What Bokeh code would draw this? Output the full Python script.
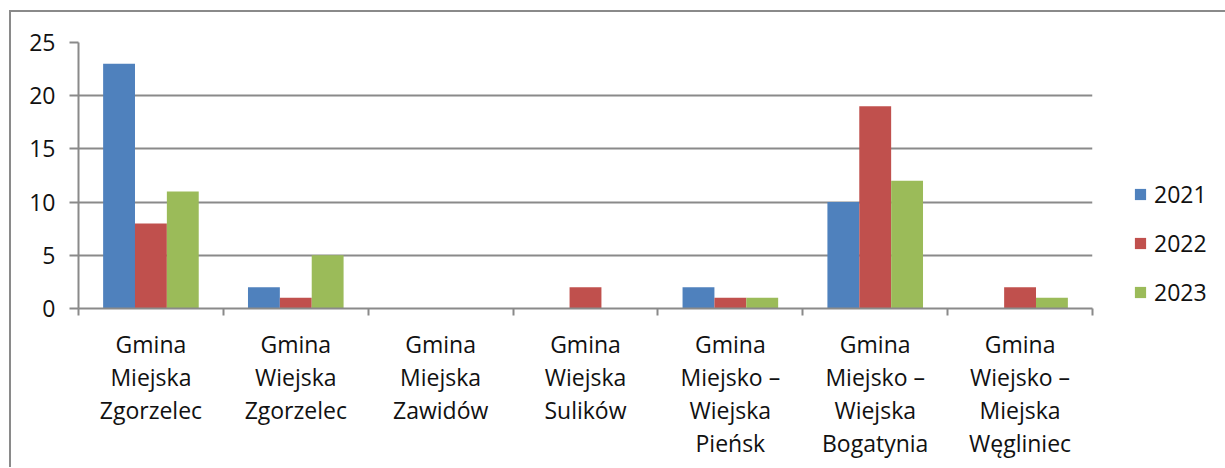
from bokeh.plotting import figure
from bokeh.models import (ColumnDataSource, Range1d, FixedTicker, SingleIntervalTicker,
                          Legend, LegendItem)
from bokeh.transform import dodge
from bokeh.embed import file_html
from bokeh.resources import INLINE

categories = [
    "Gmina\nMiejska\nZgorzelec",
    "Gmina\nWiejska\nZgorzelec",
    "Gmina\nMiejska\nZawidów",
    "Gmina\nWiejska\nSulików",
    "Gmina\nMiejsko –\nWiejska\nPieńsk",
    "Gmina\nMiejsko –\nWiejska\nBogatynia",
    "Gmina\nWiejsko –\nMiejska\nWęgliniec",
]
series_names = ["2021", "2022", "2023"]
v2021 = [23, 2, 0, 0, 2, 10, 0]
v2022 = [8, 1, 0, 2, 1, 19, 2]
v2023 = [11, 5, 0, 0, 1, 12, 1]
colors = ["#4F81BD", "#C0504D", "#9BBB59"]

FONT = "Open Sans"
FS = "23px"
GRAY = "#8a8a8a"
TXT = "#111111"

n = len(categories)
centers = [i + 0.5 for i in range(n)]
src = ColumnDataSource(dict(x=centers, a=v2021, b=v2022, c=v2023))

p = figure(frame_width=1014, frame_height=266,
           x_range=Range1d(0, n), y_range=Range1d(0, 25),
           output_backend="svg", toolbar_location=None,
           min_border_left=67, min_border_right=132,
           min_border_top=30, min_border_bottom=159)
p.styles = {"border-left": f"2px solid {GRAY}", "border-top": f"2px solid {GRAY}",
            "margin-left": "9px", "margin-top": "10px"}
p.outline_line_color = None
p.background_fill_color = "white"
p.border_fill_color = "white"

bw = 0.22
renderers = []
for col, off, color in zip(["a", "b", "c"], [-bw, 0, bw], colors):
    r = p.vbar(x=dodge("x", off, range=p.x_range), top=col, width=bw, bottom=0,
               source=src, fill_color=color, line_color=None)
    renderers.append(r)

# x axis
xa = p.xaxis[0]
xa.ticker = FixedTicker(ticks=centers, minor_ticks=list(range(n + 1)))
xa.major_label_overrides = {c: lab for c, lab in zip(centers, categories)}
xa.major_tick_line_color = None
xa.minor_tick_line_color = GRAY
xa.minor_tick_line_width = 2
xa.minor_tick_in = 0
xa.minor_tick_out = 7
xa.axis_line_color = GRAY
xa.axis_line_width = 2
xa.major_label_text_font = FONT
xa.major_label_text_font_size = FS
xa.major_label_text_color = TXT
xa.major_label_text_line_height = 1.04
xa.major_label_standoff = 12

# y axis
ya = p.yaxis[0]
ya.ticker = SingleIntervalTicker(interval=5, num_minor_ticks=0)
ya.major_tick_line_color = GRAY
ya.major_tick_line_width = 2
ya.major_tick_in = 0
ya.major_tick_out = 9
ya.minor_tick_line_color = None
ya.axis_line_color = GRAY
ya.axis_line_width = 2
ya.major_label_text_font = FONT
ya.major_label_text_font_size = FS
ya.major_label_text_color = TXT
ya.major_label_standoff = 14

p.xgrid.visible = False
p.ygrid.ticker = SingleIntervalTicker(interval=5)
p.ygrid.grid_line_color = GRAY
p.ygrid.grid_line_width = 2

legend = Legend(items=[LegendItem(label=s, renderers=[r]) for s, r in zip(series_names, renderers)],
                location=(41, 0), orientation="vertical",
                glyph_width=14, glyph_height=14, label_height=26, spacing=17,
                label_standoff=7, padding=0, margin=0,
                border_line_color=None, background_fill_alpha=0,
                label_text_font=FONT, label_text_font_size=FS, label_text_color=TXT)
p.add_layout(legend, "right")

open("out.html", "w").write(file_html(p, INLINE))
